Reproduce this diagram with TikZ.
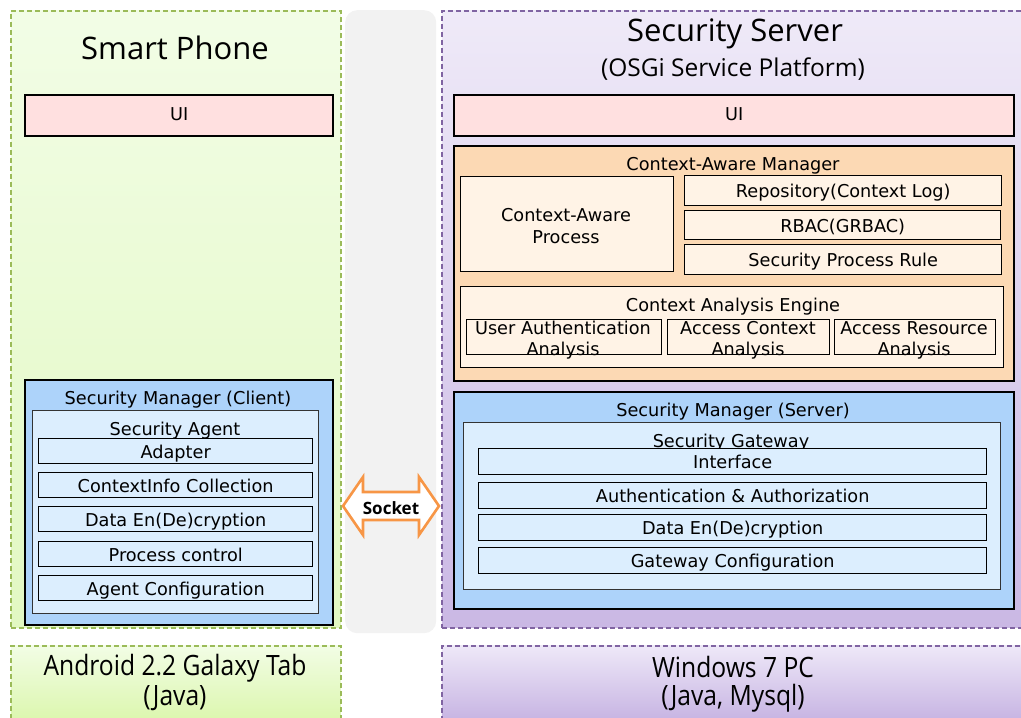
\documentclass[tikz,border=0pt]{standalone}
\usepackage{fontspec}
\setmainfont{DejaVu Sans}
\newfontfamily\titlefont{Open Sans}
\newfontfamily\narrowfont[FakeStretch=0.88]{Open Sans}
\definecolor{gborder}{HTML}{9BBB59}
\definecolor{pborder}{HTML}{8064A2}
\definecolor{uipink}{HTML}{FFE0E0}
\definecolor{peach}{HTML}{FCD9B4}
\definecolor{peachin}{HTML}{FFF3E6}
\definecolor{smblue}{HTML}{ADD3FA}
\definecolor{blin}{HTML}{DCEEFE}
\definecolor{sockor}{HTML}{F79646}
\newcommand\bx[7]{\node[#2, anchor=north west, minimum width={(#5-#3)*1pt}, minimum height={(#6-#4)*1pt}, inner sep=0pt] (#1) at (#3,#4) {#7};}
\tikzset{
  txt/.style={font=\fontsize{17.7}{21}\selectfont, inner sep=0pt, align=center},
  one/.style={text height=15pt, text depth=1pt},
  outerbox/.style={draw=black, line width=2.4pt, txt, text height=13pt, text depth=4pt},
  itembox/.style={draw=black, line width=1.4pt, fill=blin, txt, one},
  peachitem/.style={draw=black, line width=1.4pt, fill=peachin, txt, one},
  innerbox/.style={draw=black!80, line width=1.3pt, fill=blin},
  gpanel/.style={draw=gborder, dash pattern=on 5pt off 3pt, line width=1.6pt},
  ppanel/.style={draw=pborder, dash pattern=on 5pt off 3pt, line width=1.6pt},
  ttl/.style={inner sep=0pt, font=\titlefont\fontsize{31}{34}\selectfont},
  btm/.style={inner sep=0pt, font=\narrowfont\fontsize{28}{32}\selectfont},
}
\begin{document}
\begin{tikzpicture}[x=1pt,y=-1pt]
\useasboundingbox (0,0) rectangle (1021,718);
% panels
\bx{gp}{gpanel, top color={rgb,255:red,242;green,253;blue,230}, bottom color={rgb,255:red,226;green,248;blue,194}}{10}{10}{340}{627}{}
\bx{mid}{fill={rgb,255:red,242;green,242;blue,242}, rounded corners=12pt}{345}{10}{436}{633}{}
\bx{pp}{ppanel, top color={rgb,255:red,239;green,234;blue,248}, bottom color={rgb,255:red,202;green,184;blue,228}}{441}{10}{1030}{627}{}
\bx{gb}{gpanel, top color={rgb,255:red,242;green,253;blue,229}, bottom color={rgb,255:red,218;green,246;blue,170}}{10}{645}{340}{725}{}
\bx{pb}{ppanel, top color={rgb,255:red,238;green,232;blue,248}, bottom color={rgb,255:red,196;green,176;blue,225}}{441}{645}{1030}{725}{}
% titles
\node[ttl] (tsp) at (175,48) {Smart Phone};
\node[ttl] (tss) at (735,34) {Security Server};
\node[inner sep=0pt, font=\titlefont\fontsize{24.5}{28}\selectfont] (tosgi) at (733,69) {(OSGi Service Platform)};
\node[btm] (tand) at (175,668) {Android 2.2 Galaxy Tab};
\node[btm] (tjava) at (175,698) {(Java)};
\node[btm] (twin) at (733,667) {Windows 7 PC};
\node[btm] (tjm) at (733,698) {(Java, Mysql)};
% left
\bx{uil}{outerbox, fill=uipink}{24}{94}{332}{135}{UI}
\bx{smc}{outerbox, fill=smblue}{24}{379}{332}{624}{}
\node[txt, one] (tsmc) at (178,397) {Security Manager (Client)};
\bx{agent}{innerbox}{32}{410}{318}{613}{}
\node[txt, one] (tagent) at (175,428) {Security Agent};
\bx{adapt}{itembox}{38}{438}{312}{463}{Adapter}
\bx{cic}{itembox}{38}{472}{312}{497}{ContextInfo Collection}
\bx{dedl}{itembox}{38}{506}{312}{531}{Data En(De)cryption}
\bx{pc}{itembox}{38}{541}{312}{566}{Process control}
\bx{ac}{itembox}{38}{575}{312}{600}{Agent Configuration}
% socket
\draw[draw=sockor, line width=2.6pt, fill=white, line join=miter]
  (343,506) -- (363,477) -- (363,492) -- (419,492) -- (419,477) -- (439,506)
  -- (419,535) -- (419,520) -- (363,520) -- (363,535) -- cycle;
\node[inner sep=0pt, font=\titlefont\bfseries\fontsize{17}{20}\selectfont] (sock) at (391,508) {Socket};
% right
\bx{uir}{outerbox, fill=uipink}{453}{94}{1013}{135}{UI}
\bx{cam}{outerbox, fill=peach}{453}{145}{1013}{380}{}
\node[txt, one] (tcam) at (733,163) {Context-Aware Manager};
\bx{cap}{peachitem}{460}{176}{673}{271}{}
\node[txt] (tcap) at (566,226) {Context-Aware\\[1pt]Process};
\bx{repo}{peachitem}{684}{175}{1001}{205}{Repository(Context Log)}
\bx{rbac}{peachitem}{684}{210}{1000}{239}{RBAC(GRBAC)}
\bx{spr}{peachitem}{684}{244}{1001}{274}{Security Process Rule}
\bx{cae}{peachitem}{460}{286}{1003}{367}{}
\node[txt, one] (tcae) at (733,304) {Context Analysis Engine};
\bx{uaa}{peachitem}{466}{319}{661}{354}{}
\bx{aca}{peachitem}{667}{319}{829}{354}{}
\bx{ara}{peachitem}{834}{319}{995}{354}{}
\node[txt] (tuaa) at (563,340) {User Authentication\\Analysis};
\node[txt] (taca) at (748,340) {Access Context\\Analysis};
\node[txt] (tara) at (914,340) {Access Resource\\Analysis};
\bx{sms}{outerbox, fill=smblue}{453}{391}{1013}{608}{}
\node[txt, one] (tsms) at (733,409) {Security Manager (Server)};
\bx{gw}{innerbox}{463}{422}{1000}{589}{}
\node[txt, one] (tgw) at (731,440) {Security Gateway};
\bx{intf}{itembox}{478}{448}{986}{474}{Interface}
\bx{aa}{itembox}{478}{482}{986}{508}{Authentication \& Authorization}
\bx{dedr}{itembox}{478}{514}{986}{540}{Data En(De)cryption}
\bx{gc}{itembox}{478}{547}{986}{573}{Gateway Configuration}
\end{tikzpicture}
\end{document}
